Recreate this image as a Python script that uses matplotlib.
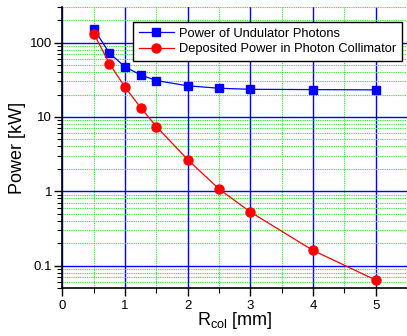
import matplotlib
matplotlib.use("Agg")
import matplotlib.pyplot as plt
from matplotlib.ticker import LogLocator, MultipleLocator, NullFormatter, FixedLocator

plt.rcParams['font.family'] = ['Liberation Sans', 'DejaVu Sans']

# Collimator radius [mm]
r_col = [0.5, 0.75, 1.0, 1.25, 1.5, 2.0, 2.5, 3.0, 4.0, 5.0]
# Power [kW]
undulator_power = [153, 72, 47, 36.7, 30.8, 26.2, 24.3, 23.5, 23.3, 23.1]
deposited_power = [132, 52, 25, 13.3, 7.4, 2.66, 1.07, 0.526, 0.16, 0.064]

y_ticks = [0.1, 1, 10, 100]
y_tick_labels = ['0.1', '1', '10', '100']

fig = plt.figure(figsize=(4.07, 3.36), dpi=100)
ax = fig.add_axes([0.1535, 0.1429, 0.8465, 0.836])

ax.set_yscale('log')
ax.set_xlim(0, 5.5)
ax.set_ylim(0.05, 300)

# Grid: solid blue on major ticks, dotted green on minor ticks
ax.xaxis.set_major_locator(MultipleLocator(1))
ax.xaxis.set_minor_locator(MultipleLocator(0.5))
ax.yaxis.set_major_locator(FixedLocator(y_ticks))
ax.set_yticklabels(y_tick_labels)
ax.yaxis.set_minor_locator(LogLocator(base=10, subs=range(2, 10), numticks=20))
ax.yaxis.set_minor_formatter(NullFormatter())

ax.grid(which='minor', color='#22ee22', linestyle=(0, (1, 1)), linewidth=0.8, zorder=0)
ax.grid(which='major', color='#0000ff', linestyle='-', linewidth=1.0, zorder=0)
ax.set_axisbelow(True)

ax.plot(r_col, undulator_power, color='#0000ff', marker='s', markersize=5.5,
        linewidth=0.9, label='Power of Undulator Photons', zorder=3)
ax.plot(r_col, deposited_power, color='#ff0000', marker='o', markersize=6.5,
        linewidth=0.9, label='Deposited Power in Photon Collimator', zorder=3)

for side in ('top', 'right'):
    ax.spines[side].set_visible(False)
for side in ('left', 'bottom'):
    ax.spines[side].set_linewidth(1.2)

ax.tick_params(which='major', direction='out', length=6, width=1, labelsize=9.5,
               colors='black')
ax.tick_params(which='minor', direction='out', length=3.5, width=0.8)
ax.tick_params(axis='y', pad=1.5)
ax.tick_params(axis='x', pad=2.5)

ax.set_ylabel('Power [kW]', fontsize=13, labelpad=3)
ax.set_xlabel(r'R$_{\mathregular{col}}$ [mm]', fontsize=13, labelpad=-1)

leg = ax.legend(loc='upper right', bbox_to_anchor=(0.9857, 0.947), fontsize=9.3,
                frameon=True, fancybox=False, edgecolor='black', framealpha=1,
                borderpad=0.45, labelspacing=0.25, handlelength=2.7,
                handletextpad=0.4, borderaxespad=0)
leg.get_frame().set_linewidth(1.0)

fig.savefig('out.png', dpi=100)
